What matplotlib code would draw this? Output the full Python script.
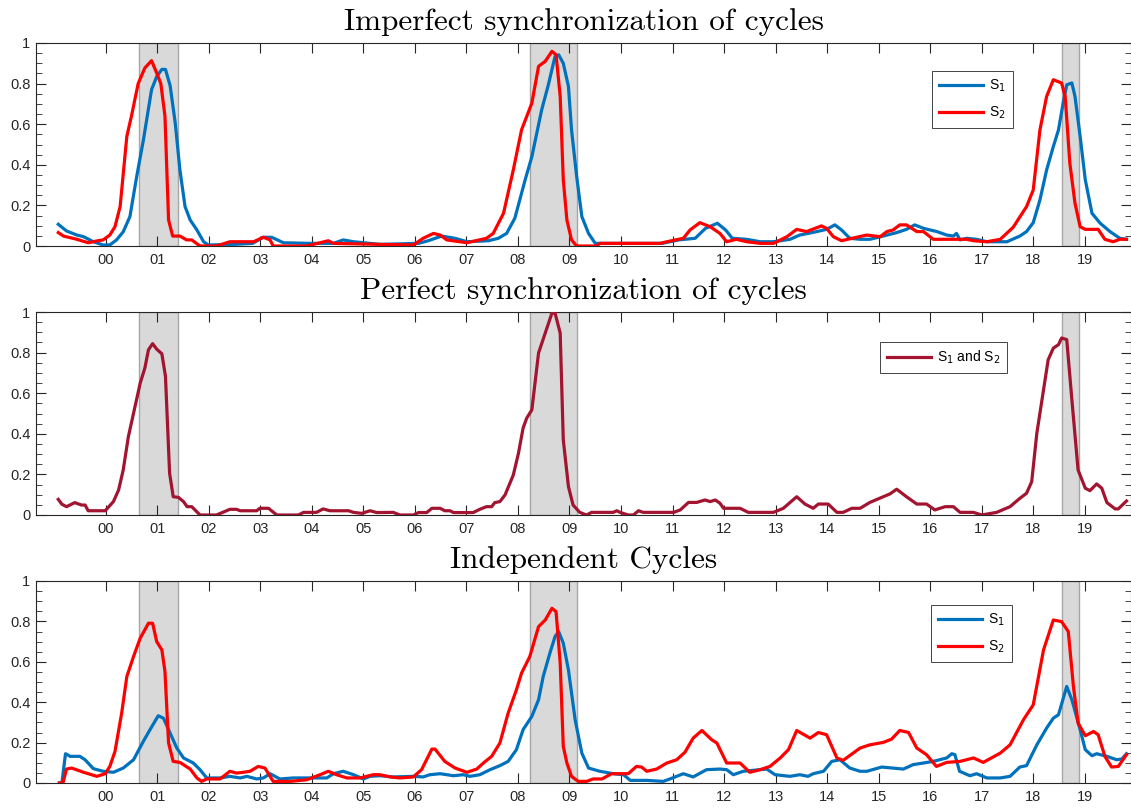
import matplotlib
matplotlib.use("Agg")
import matplotlib.pyplot as plt
from matplotlib.ticker import MultipleLocator, FuncFormatter
import numpy as np

# ---------------- data (decimal years, values) ----------------
years = list(range(2000, 2020))
year_labels = [f"{y % 100:02d}" for y in years]

bands = [(2000.65, 2001.41), (2008.24, 2009.15), (2018.56, 2018.89)]

# Panel 1: imperfect synchronization
imp_s1_t = [1999.08, 1999.24, 1999.44, 1999.57, 1999.76, 1999.95, 2000.08, 2000.21, 2000.34, 2000.47,
            2000.60, 2000.73, 2000.89, 2000.99, 2001.09, 2001.16, 2001.25, 2001.35, 2001.44, 2001.54,
            2001.64, 2001.77, 2001.90, 2001.99, 2002.50, 2002.85, 2003.06, 2003.22, 2003.45, 2003.97,
            2004.42, 2004.61, 2004.81, 2005.32, 2006.07, 2006.26, 2006.52, 2006.78, 2007.01, 2007.43,
            2007.62, 2007.78, 2007.94, 2008.14, 2008.27, 2008.46, 2008.59, 2008.72, 2008.79, 2008.88,
            2008.98, 2009.04, 2009.14, 2009.24, 2009.37, 2009.50, 2010.80, 2011.12, 2011.44, 2011.64,
            2011.87, 2012.03, 2012.16, 2012.44, 2012.70, 2012.96, 2013.28, 2013.47, 2013.73, 2013.99,
            2014.15, 2014.28, 2014.44, 2014.64, 2014.83, 2015.09, 2015.35, 2015.54, 2015.70, 2015.87,
            2016.13, 2016.32, 2016.45, 2016.51, 2016.58, 2016.71, 2016.90, 2017.10, 2017.49, 2017.74,
            2017.87, 2018.00, 2018.13, 2018.26, 2018.39, 2018.49, 2018.58, 2018.65, 2018.75, 2018.81,
            2018.91, 2019.01, 2019.14, 2019.30, 2019.49, 2019.68, 2019.81]
imp_s1_v = [0.107, 0.074, 0.054, 0.046, 0.021, 0.005, 0.005, 0.030, 0.070, 0.145,
            0.340, 0.520, 0.770, 0.835, 0.870, 0.870, 0.790, 0.605, 0.375, 0.194,
            0.128, 0.079, 0.021, 0.005, 0.008, 0.013, 0.043, 0.043, 0.016, 0.013,
            0.013, 0.030, 0.021, 0.008, 0.013, 0.026, 0.049, 0.038, 0.021, 0.026,
            0.038, 0.062, 0.137, 0.326, 0.440, 0.670, 0.794, 0.934, 0.942, 0.900,
            0.786, 0.572, 0.342, 0.145, 0.062, 0.013, 0.013, 0.030, 0.038, 0.087,
            0.112, 0.079, 0.038, 0.033, 0.021, 0.021, 0.033, 0.054, 0.067, 0.082,
            0.104, 0.079, 0.038, 0.033, 0.033, 0.049, 0.066, 0.082, 0.104, 0.087,
            0.071, 0.054, 0.049, 0.062, 0.030, 0.038, 0.033, 0.021, 0.021, 0.049,
            0.071, 0.115, 0.227, 0.375, 0.490, 0.572, 0.704, 0.794, 0.803, 0.737,
            0.540, 0.326, 0.161, 0.112, 0.071, 0.038, 0.033]

imp_s2_t = [1999.08, 1999.18, 1999.44, 1999.66, 1999.83, 1999.95, 2000.08, 2000.18, 2000.28, 2000.41,
            2000.50, 2000.63, 2000.76, 2000.89, 2000.99, 2001.07, 2001.15, 2001.22, 2001.30, 2001.44,
            2001.57, 2001.67, 2001.83, 2002.15, 2002.41, 2002.87, 2003.06, 2003.19, 2003.25, 2003.90,
            2004.32, 2004.42, 2005.32, 2005.97, 2006.16, 2006.36, 2006.49, 2006.62, 2007.01, 2007.39,
            2007.52, 2007.72, 2007.91, 2008.07, 2008.17, 2008.27, 2008.40, 2008.53, 2008.66, 2008.74,
            2008.82, 2008.88, 2008.95, 2009.04, 2009.14, 2009.53, 2009.59, 2010.76, 2010.89, 2011.21,
            2011.34, 2011.53, 2011.73, 2011.92, 2012.05, 2012.24, 2012.44, 2012.70, 2012.96, 2013.22,
            2013.41, 2013.60, 2013.89, 2013.99, 2014.12, 2014.28, 2014.57, 2014.77, 2015.03, 2015.16,
            2015.28, 2015.41, 2015.54, 2015.74, 2015.87, 2016.06, 2016.32, 2016.71, 2016.84, 2017.10,
            2017.36, 2017.61, 2017.87, 2018.00, 2018.13, 2018.26, 2018.39, 2018.55, 2018.62, 2018.71,
            2018.81, 2018.91, 2019.01, 2019.26, 2019.39, 2019.55, 2019.68, 2019.81]
imp_s2_v = [0.066, 0.049, 0.033, 0.016, 0.025, 0.030, 0.054, 0.095, 0.194, 0.540,
            0.640, 0.800, 0.877, 0.913, 0.852, 0.800, 0.640, 0.128, 0.049, 0.049,
            0.030, 0.030, 0.000, 0.000, 0.021, 0.021, 0.043, 0.030, 0.000, 0.000,
            0.026, 0.013, 0.008, 0.005, 0.038, 0.062, 0.054, 0.030, 0.016, 0.038,
            0.062, 0.161, 0.375, 0.572, 0.638, 0.704, 0.885, 0.910, 0.959, 0.942,
            0.737, 0.326, 0.128, 0.030, 0.000, 0.000, 0.013, 0.013, 0.021, 0.038,
            0.079, 0.115, 0.095, 0.062, 0.021, 0.033, 0.021, 0.013, 0.013, 0.046,
            0.082, 0.071, 0.099, 0.087, 0.046, 0.026, 0.043, 0.054, 0.046, 0.071,
            0.079, 0.104, 0.104, 0.071, 0.071, 0.033, 0.033, 0.033, 0.026, 0.021,
            0.033, 0.092, 0.194, 0.276, 0.572, 0.737, 0.819, 0.803, 0.737, 0.408,
            0.211, 0.095, 0.082, 0.082, 0.033, 0.021, 0.033, 0.033]

# Panel 2: perfect synchronization (S1 = S2)
per_t = [1999.08, 1999.15, 1999.24, 1999.40, 1999.53, 1999.60, 1999.66, 1999.99, 2000.15, 2000.25,
         2000.34, 2000.44, 2000.54, 2000.67, 2000.76, 2000.83, 2000.91, 2000.99, 2001.09, 2001.16,
         2001.24, 2001.31, 2001.41, 2001.51, 2001.58, 2001.67, 2001.83, 2002.15, 2002.41, 2002.54,
         2002.61, 2002.93, 2002.99, 2003.16, 2003.32, 2003.74, 2003.84, 2004.09, 2004.22, 2004.35,
         2004.71, 2004.81, 2004.97, 2005.13, 2005.26, 2005.58, 2005.71, 2005.97, 2006.07, 2006.23,
         2006.33, 2006.49, 2006.58, 2006.68, 2006.75, 2007.13, 2007.26, 2007.39, 2007.49, 2007.55,
         2007.65, 2007.75, 2007.91, 2008.01, 2008.10, 2008.17, 2008.27, 2008.40, 2008.53, 2008.66,
         2008.72, 2008.82, 2008.88, 2008.98, 2009.07, 2009.20, 2009.33, 2009.43, 2009.85, 2009.92,
         2009.98, 2010.14, 2010.24, 2010.34, 2010.43, 2011.02, 2011.15, 2011.31, 2011.47, 2011.63,
         2011.73, 2011.83, 2011.92, 2011.99, 2012.31, 2012.47, 2012.96, 2013.15, 2013.41, 2013.57,
         2013.73, 2013.83, 2014.02, 2014.19, 2014.31, 2014.48, 2014.64, 2014.83, 2015.22, 2015.35,
         2015.54, 2015.74, 2015.93, 2016.09, 2016.19, 2016.29, 2016.45, 2016.58, 2016.84, 2017.00,
         2017.29, 2017.55, 2017.74, 2017.87, 2017.97, 2018.07, 2018.20, 2018.29, 2018.39, 2018.49,
         2018.55, 2018.65, 2018.75, 2018.87, 2019.01, 2019.10, 2019.23, 2019.33, 2019.43, 2019.59,
         2019.65, 2019.81]
per_v = [0.077, 0.053, 0.041, 0.061, 0.049, 0.049, 0.021, 0.021, 0.066, 0.123,
         0.222, 0.386, 0.500, 0.650, 0.724, 0.814, 0.844, 0.817, 0.794, 0.683,
         0.206, 0.090, 0.087, 0.066, 0.041, 0.041, 0.000, 0.000, 0.028, 0.028,
         0.021, 0.021, 0.033, 0.033, 0.000, 0.000, 0.013, 0.013, 0.030, 0.021,
         0.021, 0.013, 0.008, 0.021, 0.012, 0.013, 0.000, 0.000, 0.012, 0.012,
         0.033, 0.033, 0.021, 0.021, 0.012, 0.012, 0.028, 0.041, 0.041, 0.061,
         0.066, 0.099, 0.197, 0.304, 0.428, 0.477, 0.518, 0.798, 0.896, 0.995,
         0.995, 0.896, 0.370, 0.140, 0.049, 0.013, 0.000, 0.013, 0.013, 0.021,
         0.013, 0.000, 0.000, 0.021, 0.013, 0.013, 0.025, 0.062, 0.062, 0.074,
         0.066, 0.074, 0.058, 0.033, 0.033, 0.013, 0.013, 0.033, 0.090, 0.054,
         0.033, 0.054, 0.054, 0.013, 0.013, 0.033, 0.033, 0.062, 0.104, 0.127,
         0.090, 0.054, 0.054, 0.025, 0.033, 0.041, 0.041, 0.013, 0.013, 0.000,
         0.013, 0.041, 0.082, 0.107, 0.164, 0.403, 0.617, 0.765, 0.822, 0.839,
         0.872, 0.864, 0.567, 0.222, 0.132, 0.120, 0.153, 0.132, 0.061, 0.030,
         0.030, 0.069]

# Panel 3: independent cycles
ind_s1_t = [1999.10, 1999.15, 1999.22, 1999.31, 1999.50, 1999.60, 1999.76, 1999.95, 2000.15, 2000.34,
            2000.54, 2000.73, 2000.86, 2001.02, 2001.12, 2001.25, 2001.38, 2001.51, 2001.70, 2001.83,
            2001.96, 2002.22, 2002.41, 2002.61, 2002.74, 2002.93, 2003.06, 2003.19, 2003.38, 2003.64,
            2003.97, 2004.29, 2004.42, 2004.61, 2004.81, 2005.00, 2005.13, 2005.32, 2005.58, 2005.97,
            2006.16, 2006.29, 2006.49, 2006.75, 2006.94, 2007.07, 2007.26, 2007.46, 2007.65, 2007.81,
            2007.97, 2008.10, 2008.27, 2008.40, 2008.49, 2008.62, 2008.72, 2008.79, 2008.88, 2008.98,
            2009.11, 2009.24, 2009.37, 2009.59, 2009.85, 2010.05, 2010.18, 2010.50, 2010.82, 2010.95,
            2011.21, 2011.40, 2011.66, 2011.92, 2012.05, 2012.18, 2012.37, 2012.70, 2012.83, 2012.99,
            2013.28, 2013.47, 2013.63, 2013.73, 2013.93, 2014.09, 2014.25, 2014.44, 2014.64, 2014.77,
            2015.06, 2015.48, 2015.67, 2015.87, 2016.06, 2016.32, 2016.42, 2016.48, 2016.57, 2016.77,
            2016.90, 2017.10, 2017.36, 2017.55, 2017.74, 2017.87, 2018.07, 2018.26, 2018.39, 2018.49,
            2018.65, 2018.75, 2018.91, 2019.01, 2019.14, 2019.23, 2019.43, 2019.62, 2019.72, 2019.81]
ind_s1_v = [0.000, 0.000, 0.145, 0.132, 0.132, 0.115, 0.071, 0.058, 0.053, 0.074,
            0.115, 0.206, 0.264, 0.333, 0.321, 0.247, 0.173, 0.124, 0.099, 0.066,
            0.025, 0.025, 0.033, 0.025, 0.033, 0.020, 0.025, 0.046, 0.020, 0.025,
            0.025, 0.025, 0.046, 0.058, 0.041, 0.020, 0.033, 0.036, 0.030, 0.033,
            0.030, 0.041, 0.046, 0.036, 0.041, 0.033, 0.041, 0.066, 0.086, 0.107,
            0.165, 0.264, 0.330, 0.412, 0.527, 0.643, 0.725, 0.750, 0.692, 0.560,
            0.313, 0.148, 0.074, 0.058, 0.046, 0.041, 0.013, 0.013, 0.008, 0.020,
            0.046, 0.030, 0.066, 0.069, 0.066, 0.041, 0.058, 0.066, 0.069, 0.041,
            0.033, 0.041, 0.033, 0.046, 0.058, 0.107, 0.115, 0.074, 0.058, 0.058,
            0.079, 0.069, 0.091, 0.099, 0.107, 0.124, 0.145, 0.140, 0.058, 0.036,
            0.046, 0.025, 0.025, 0.033, 0.079, 0.086, 0.189, 0.272, 0.321, 0.338,
            0.478, 0.412, 0.264, 0.165, 0.135, 0.145, 0.132, 0.115, 0.119, 0.145]

ind_s2_t = [1999.10, 1999.17, 1999.24, 1999.34, 1999.57, 1999.83, 1999.99, 2000.08, 2000.18, 2000.31,
            2000.41, 2000.54, 2000.67, 2000.83, 2000.91, 2000.99, 2001.09, 2001.15, 2001.22, 2001.31,
            2001.44, 2001.64, 2001.77, 2001.86, 2001.96, 2002.22, 2002.41, 2002.54, 2002.67, 2002.80,
            2002.96, 2003.09, 2003.19, 2003.25, 2003.58, 2003.90, 2004.16, 2004.32, 2004.48, 2004.68,
            2004.94, 2005.19, 2005.32, 2005.52, 2005.71, 2005.97, 2006.13, 2006.33, 2006.39, 2006.58,
            2006.78, 2007.01, 2007.20, 2007.33, 2007.49, 2007.65, 2007.81, 2007.97, 2008.07, 2008.23,
            2008.40, 2008.53, 2008.66, 2008.74, 2008.82, 2008.88, 2008.95, 2009.04, 2009.17, 2009.33,
            2009.46, 2009.63, 2009.82, 2010.14, 2010.30, 2010.40, 2010.50, 2010.69, 2010.89, 2011.08,
            2011.24, 2011.40, 2011.57, 2011.76, 2011.86, 2012.05, 2012.31, 2012.50, 2012.70, 2012.89,
            2013.09, 2013.25, 2013.41, 2013.67, 2013.83, 2013.99, 2014.19, 2014.31, 2014.64, 2014.83,
            2015.09, 2015.25, 2015.41, 2015.58, 2015.74, 2015.93, 2016.12, 2016.32, 2016.58, 2016.84,
            2017.03, 2017.36, 2017.55, 2017.81, 2018.00, 2018.20, 2018.39, 2018.55, 2018.68, 2018.78,
            2018.87, 2019.01, 2019.17, 2019.26, 2019.39, 2019.52, 2019.65, 2019.81]
ind_s2_v = [0.000, 0.000, 0.069, 0.074, 0.053, 0.033, 0.046, 0.082, 0.156, 0.346,
            0.527, 0.626, 0.717, 0.791, 0.791, 0.700, 0.659, 0.552, 0.198, 0.107,
            0.102, 0.069, 0.025, 0.008, 0.020, 0.020, 0.058, 0.049, 0.053, 0.058,
            0.082, 0.074, 0.033, 0.008, 0.008, 0.016, 0.041, 0.058, 0.041, 0.025,
            0.025, 0.041, 0.041, 0.030, 0.025, 0.030, 0.066, 0.168, 0.168, 0.107,
            0.074, 0.053, 0.069, 0.099, 0.132, 0.198, 0.346, 0.461, 0.544, 0.626,
            0.774, 0.807, 0.865, 0.848, 0.593, 0.181, 0.099, 0.033, 0.008, 0.008,
            0.020, 0.020, 0.046, 0.046, 0.082, 0.079, 0.058, 0.069, 0.099, 0.115,
            0.152, 0.222, 0.260, 0.214, 0.198, 0.099, 0.099, 0.053, 0.066, 0.082,
            0.124, 0.165, 0.260, 0.222, 0.250, 0.239, 0.124, 0.112, 0.173, 0.189,
            0.201, 0.217, 0.260, 0.250, 0.173, 0.140, 0.082, 0.102, 0.107, 0.124,
            0.102, 0.148, 0.189, 0.313, 0.387, 0.659, 0.807, 0.799, 0.750, 0.478,
            0.297, 0.234, 0.255, 0.239, 0.132, 0.079, 0.082, 0.140]

titles = ["Imperfect synchronization of cycles",
          "Perfect synchronization of cycles",
          "Independent Cycles"]

# ---------------- styling ----------------
BLUE = "#0072BD"
RED = "#FF0000"
DARKRED = "#A2142F"
AXC = "#262626"
W, H = 1131, 811
plt.rcParams['font.family'] = ['Liberation Sans', 'DejaVu Sans']

fig = plt.figure(figsize=(W / 100, H / 100), dpi=100)

x_left_px, x_right_px = 36, 1131
xlim = (2000 + (x_left_px - 105.7) / 51.53, 2000 + (x_right_px - 105.7) / 51.53)
panels_px = [(43, 246), (312, 515), (581, 783)]

axes = []
for (top, bot) in panels_px:
    ax = fig.add_axes([x_left_px / W, 1 - bot / H, (x_right_px - x_left_px) / W, (bot - top) / H])
    axes.append(ax)

for i, ax in enumerate(axes):
    for (a, b) in bands:
        ax.axvspan(a, b, facecolor="#d9d9d9", edgecolor="#a6a6a6", linewidth=1.0, zorder=0)
    ax.set_xlim(*xlim)
    ax.set_ylim(0, 1)
    ax.set_xticks(years)
    ax.set_xticklabels(year_labels)
    ax.set_yticks([0, 0.2, 0.4, 0.6, 0.8, 1.0])
    ax.yaxis.set_major_formatter(FuncFormatter(lambda v, p: f"{v:g}"))
    ax.yaxis.set_minor_locator(MultipleLocator(0.05))
    ax.tick_params(axis='both', which='major', direction='in', length=7.5, width=0.8,
                   color=AXC, labelcolor=AXC, labelsize=10.5, top=True, right=True)
    ax.tick_params(axis='y', which='minor', direction='in', length=4.5, width=0.6,
                   color=AXC, left=True, right=True)
    ax.tick_params(axis='x', which='major', pad=5)
    ax.tick_params(axis='y', which='major', pad=4)
    for s in ax.spines.values():
        s.set_color(AXC)
        s.set_linewidth(0.8)
    ax.set_title(titles[i], fontfamily='cmr10', fontsize=22.5, pad=9.5, color='black')

lw = 2.3
ax1, ax2, ax3 = axes
ax1.plot(imp_s1_t, imp_s1_v, color=BLUE, lw=lw, label=r"S$_1$", zorder=3)
ax1.plot(imp_s2_t, imp_s2_v, color=RED, lw=lw, label=r"S$_2$", zorder=4)
ax2.plot(per_t, per_v, color=DARKRED, lw=lw, label=r"S$_1$ and S$_2$", zorder=3)
ax3.plot(ind_s1_t, ind_s1_v, color=BLUE, lw=lw, label=r"S$_1$", zorder=3)
ax3.plot(ind_s2_t, ind_s2_v, color=RED, lw=lw, label=r"S$_2$", zorder=4)

def legend_at(ax, x_px, y_px, top_px, bot_px, spacing):
    fx = (x_px - x_left_px) / (x_right_px - x_left_px)
    fy = (bot_px - y_px) / (bot_px - top_px)
    leg = ax.legend(loc='upper left', bbox_to_anchor=(fx, fy), borderaxespad=0,
                    fontsize=10, handlelength=3.2, handletextpad=0.4, borderpad=0.5,
                    labelspacing=spacing, fancybox=False, framealpha=1, edgecolor=AXC)
    leg.get_frame().set_linewidth(0.6)
    return leg

legend_at(ax1, 932, 71, 43, 246, 0.75)
legend_at(ax2, 880, 342, 312, 515, 0.5)
legend_at(ax3, 931, 605, 581, 783, 0.75)

fig.savefig("out.png", dpi=100)
